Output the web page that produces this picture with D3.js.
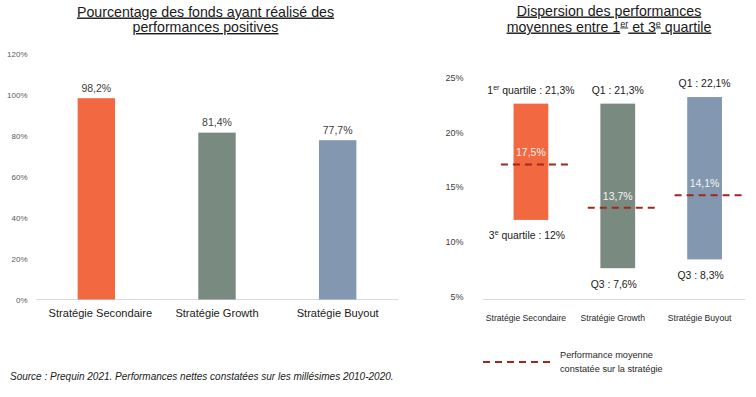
<!DOCTYPE html>
<html>
<head>
<meta charset="utf-8">
<script src="https://cdn.jsdelivr.net/npm/d3@7"></script>
<style>
  html, body { margin: 0; padding: 0; background: #fff; }
  svg { display: block; font-family: "Liberation Sans", Arial, sans-serif; }
</style>
</head>
<body>
<svg id="chart" width="756" height="397"></svg>
<script>
// ---------- data ----------
const categories = ["Stratégie Secondaire", "Stratégie Growth", "Stratégie Buyout"];
const positivePct = [98.2, 81.4, 77.7];
const leftTicks = [0, 20, 40, 60, 80, 100, 120];

// labelled quartile / mean values
const q1Values = [21.3, 21.3, 22.1];
const q3Values = [12, 7.6, 8.3];
const meanValues = [17.5, 13.7, 14.1];
// extents as drawn in the picture
const barTopDrawn = [22.6, 22.6, 23.2];
const barBottomDrawn = [12.0, 7.6, 8.4];
const meanLineDrawn = [17.05, 13.1, 14.25];
const rightTicks = [5, 10, 15, 20, 25];

const colors = ["#F26841", "#798B80", "#8397B0"];
const dashColor = "#A0291C";

const svg = d3.select("#chart");
const fmt = v => String(v).replace(".", ",") + "%";

// ---------- left chart ----------
const xL = d3.scaleBand().domain(categories).range([36, 398]).paddingInner(0.69).paddingOuter(0.345);
const yL = d3.scaleLinear().domain([0, 120]).range([299.5, 53.5]);

const titleL = svg.append("text").attr("x", 205.5).attr("y", 16.5)
  .attr("text-anchor", "middle").attr("font-size", 14.2).attr("fill", "#1a1a1a")
  .style("text-decoration", "underline");
titleL.append("tspan").attr("x", 205.5).attr("dy", 0).text("Pourcentage des fonds ayant réalisé des");
titleL.append("tspan").attr("x", 205.5).attr("dy", 15.5).text("performances positives");

const axL = svg.append("g").attr("transform", "translate(27.5,0)")
  .call(d3.axisLeft(yL).tickValues(leftTicks).tickSize(0).tickFormat(d => d + "%"));
axL.select(".domain").remove();
axL.selectAll("text").attr("font-size", 8).attr("fill", "#595959").attr("font-family", "Liberation Sans, Arial, sans-serif").attr("x", 0);

svg.append("line").attr("x1", 36).attr("x2", 398).attr("y1", yL(0)).attr("y2", yL(0))
  .attr("stroke", "#d9d9d9").attr("stroke-width", 1);

svg.append("g").selectAll("rect").data(categories).join("rect")
  .attr("x", d => xL(d)).attr("width", xL.bandwidth())
  .attr("y", (d, i) => yL(positivePct[i]))
  .attr("height", (d, i) => yL(0) - yL(positivePct[i]))
  .attr("fill", (d, i) => colors[i]);

svg.append("g").selectAll("text").data(categories).join("text")
  .attr("x", d => xL(d) + xL.bandwidth() / 2)
  .attr("y", (d, i) => yL(positivePct[i]) - 6.5)
  .attr("text-anchor", "middle").attr("font-size", 10.5).attr("fill", "#404040")
  .text((d, i) => fmt(positivePct[i]));

const axLb = svg.append("g").attr("transform", `translate(0,${yL(0)})`)
  .call(d3.axisBottom(xL).tickSize(0));
axLb.select(".domain").remove();
axLb.selectAll("text").attr("font-size", 11.1).attr("fill", "#1a1a1a")
  .attr("font-family", "Liberation Sans, Arial, sans-serif").attr("dy", 0).attr("y", 17)
  .attr("dx", (d, i) => i === 0 ? 4 : 0);

svg.append("text").attr("x", 10).attr("y", 380.2)
  .attr("font-size", 10).attr("font-style", "italic").attr("fill", "#1a1a1a")
  .text("Source : Prequin 2021. Performances nettes constatées sur les millésimes 2010-2020.");

// ---------- right chart ----------
const xR = d3.scaleBand().domain(categories).range([487.5, 748]).paddingInner(0.6).paddingOuter(0.3);
const yR = d3.scaleLinear().domain([5, 25]).range([296.7, 77.3]);

const titleR = svg.append("text").attr("x", 609).attr("y", 15.5)
  .attr("text-anchor", "middle").attr("font-size", 14.2).attr("fill", "#1a1a1a")
  .style("text-decoration", "underline");
titleR.append("tspan").attr("x", 609).attr("dy", 0).text("Dispersion des performances");
const t2 = titleR.append("tspan").attr("x", 609).attr("dy", 16);
t2.text("moyennes entre 1");
titleR.append("tspan").attr("font-size", 9).attr("dy", -5).text("er");
titleR.append("tspan").attr("dy", 5).text(" et 3");
titleR.append("tspan").attr("font-size", 9).attr("dy", -5).text("e");
titleR.append("tspan").attr("dy", 5).text(" quartile");

const axR = svg.append("g").attr("transform", "translate(463.5,0)")
  .call(d3.axisLeft(yR).tickValues(rightTicks).tickSize(0).tickFormat(d => d + "%"));
axR.select(".domain").remove();
axR.selectAll("text").attr("font-size", 9).attr("fill", "#404040").attr("font-family", "Liberation Sans, Arial, sans-serif").attr("x", 0);

svg.append("line").attr("x1", 483).attr("x2", 745).attr("y1", 299.5).attr("y2", 299.5)
  .attr("stroke", "#d9d9d9").attr("stroke-width", 1);

svg.append("g").selectAll("rect").data(categories).join("rect")
  .attr("x", d => xR(d)).attr("width", xR.bandwidth())
  .attr("y", (d, i) => yR(barTopDrawn[i]))
  .attr("height", (d, i) => yR(barBottomDrawn[i]) - yR(barTopDrawn[i]))
  .attr("fill", (d, i) => colors[i]);

// mean dashed lines
svg.append("g").selectAll("line").data(categories).join("line")
  .attr("x1", d => xR(d) + xR.bandwidth() / 2 - 30)
  .attr("x2", d => xR(d) + xR.bandwidth() / 2 + 37)
  .attr("y1", (d, i) => yR(meanLineDrawn[i])).attr("y2", (d, i) => yR(meanLineDrawn[i]))
  .attr("stroke", dashColor).attr("stroke-width", 2).attr("stroke-dasharray", "7,5");

// mean labels
svg.append("g").selectAll("text").data(categories).join("text")
  .attr("x", d => xR(d) + xR.bandwidth() / 2)
  .attr("y", (d, i) => yR(meanLineDrawn[i]) - 12 + 3.7)
  .attr("text-anchor", "middle").attr("font-size", 10.5).attr("fill", "#f4f4f4")
  .text((d, i) => fmt(meanValues[i]));

// Q1 labels
const q1g = svg.append("g");
categories.forEach((c, i) => {
  const t = q1g.append("text").attr("x", xR(c) + xR.bandwidth() / 2)
    .attr("y", yR(barTopDrawn[i]) - 10).attr("text-anchor", "middle")
    .attr("font-size", 10.4).attr("fill", "#1a1a1a");
  if (i === 0) {
    t.append("tspan").text("1");
    t.append("tspan").attr("font-size", 7).attr("dy", -4).text("er");
    t.append("tspan").attr("dy", 4).text(" quartile : " + fmt(q1Values[i]));
  } else {
    t.text("Q1 : " + fmt(q1Values[i]));
  }
});

// Q3 labels
const q3g = svg.append("g");
categories.forEach((c, i) => {
  const t = q3g.append("text").attr("x", xR(c) + xR.bandwidth() / 2 - 4)
    .attr("y", yR(barBottomDrawn[i]) + 19.5).attr("text-anchor", "middle")
    .attr("font-size", 10.4).attr("fill", "#1a1a1a");
  if (i === 0) {
    t.append("tspan").text("3");
    t.append("tspan").attr("font-size", 7).attr("dy", -4).text("e");
    t.append("tspan").attr("dy", 4).text(" quartile : " + fmt(q3Values[i]));
  } else {
    t.text("Q3 : " + fmt(q3Values[i]));
  }
});

const axRb = svg.append("g").attr("transform", "translate(0,299.5)")
  .call(d3.axisBottom(xR).tickSize(0));
axRb.select(".domain").remove();
axRb.selectAll("text").attr("font-size", 8.6).attr("fill", "#262626")
  .attr("font-family", "Liberation Sans, Arial, sans-serif").attr("dy", 0).attr("y", 21.5)
  .attr("dx", -5);

// legend
svg.append("line").attr("x1", 483).attr("x2", 553).attr("y1", 362).attr("y2", 362)
  .attr("stroke", dashColor).attr("stroke-width", 2).attr("stroke-dasharray", "7,5");
const lg = svg.append("text").attr("x", 560).attr("y", 358.3).attr("font-size", 9.2).attr("fill", "#262626");
lg.append("tspan").attr("x", 560).text("Performance moyenne");
lg.append("tspan").attr("x", 560).attr("dy", 13.5).text("constatée sur la stratégie");
</script>
</body>
</html>
